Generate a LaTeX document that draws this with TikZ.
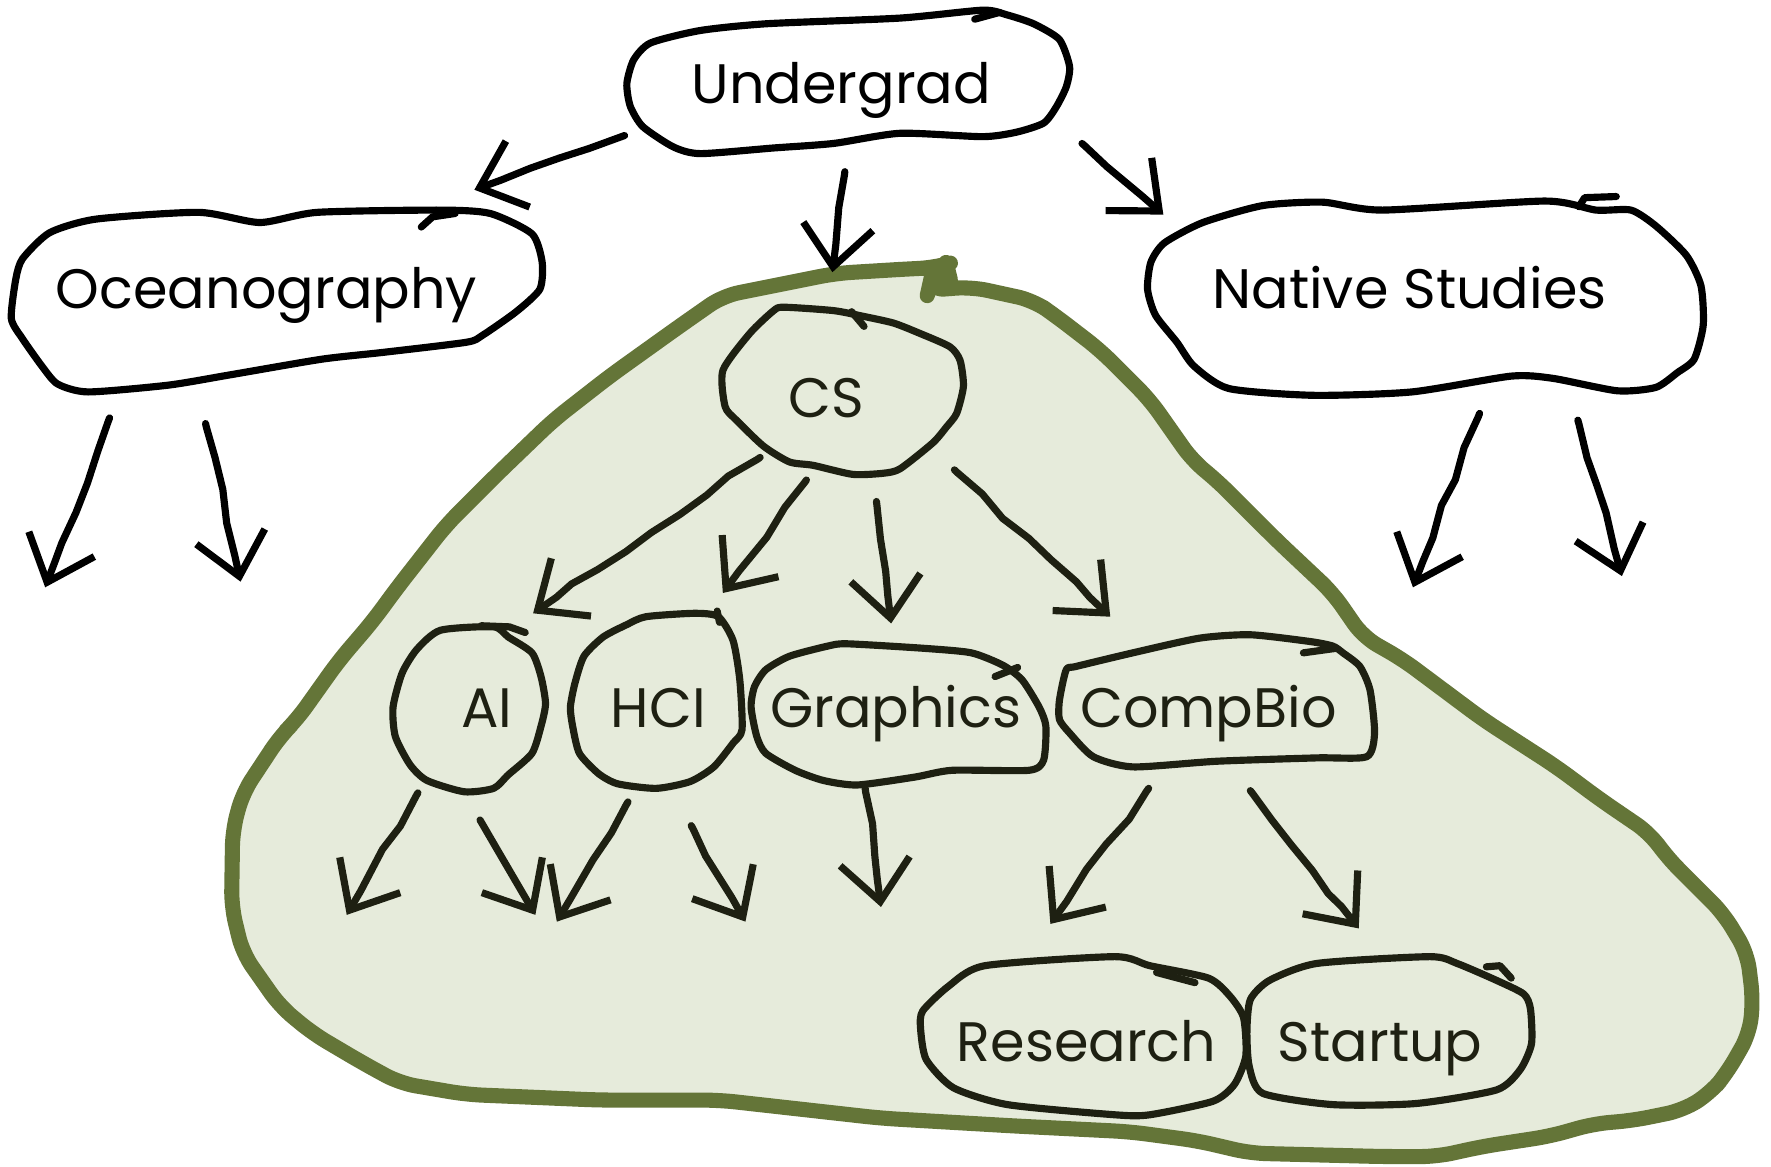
\documentclass[tikz,border=0pt]{standalone}
\usepackage{fontspec}
\setmainfont{Poppins}
\usetikzlibrary{decorations.pathmorphing, arrows.meta}
\definecolor{moss}{HTML}{647538}
\definecolor{mossfill}{HTML}{E6EBDB}
\definecolor{ink}{HTML}{1E2012}

\begin{document}
\pgfmathsetseed{11}
\begin{tikzpicture}[x=0.01cm, y=-0.01cm,
  tag/.style={font=\fontsize{14}{16}\selectfont, text height=9.8pt, text depth=0pt, inner sep=0pt},
  outer/.style={tag, text=black},
  inner/.style={tag, text=ink},
  outline/.style={line width=1.8pt, line join=round, line cap=round},
  arr/.style={line width=1.8pt, line cap=round, line join=round,
    decorate, decoration={random steps, segment length=8pt, amplitude=0.8pt, pre length=1pt, post length=7pt},
    -{Straight Barb[length=3.6mm, width=6.2mm]}},
]
\fill[white] (0,0) rectangle (1568,1033);
\useasboundingbox (0,0) rectangle (1568,1033);

% the shaded region holding CS and its branches
\draw[moss, fill=mossfill, line width=3.8pt, line join=round, rounded corners=4pt]
  (740,242) -- (806,238) -- (828,237) -- (838,234) -- (841,246) -- (824,248) -- (822,257)
  -- (860,254) -- (915,266) -- (935,280) -- (974,310) -- (1018,354) -- (1056,408)
  -- (1077,425) -- (1130,478) -- (1180,525) -- (1207,564) -- (1242,584) -- (1313,637)
  -- (1378,679) -- (1417,708) -- (1461,738) -- (1476,759) -- (1526,809) -- (1547,844)
  -- (1552,885) -- (1549,915) -- (1529,950) -- (1514,968) -- (1490,983) -- (1446,992)
  -- (1411,995) -- (1372,1006) -- (1313,1015) -- (1272,1024) -- (1225,1024) -- (1107,1021)
  -- (1060,1010) -- (1000,1002) -- (900,997) -- (780,990) -- (637,974) -- (531,974)
  -- (413,969) -- (354,959) -- (321,941) -- (277,915) -- (248,891) -- (215,844)
  -- (205,803) -- (206,735) -- (215,702) -- (248,652) -- (263,637) -- (300,585)
  -- (330,550) -- (352,520) -- (395,465) -- (440,420) -- (490,372) -- (540,333)
  -- (600,290) -- (640,262) -- (700,250) -- cycle;

% labels
\node[outer] (ug)  at (745,74)   {Undergrad};
\node[outer] (oc)  at (236,256)  {Oceanography};
\node[outer] (ns)  at (1248,256) {Native Studies};
\node[inner] (cs)  at (732,352)  {CS};
\node[inner] (ai)  at (431,627)  {AI};
\node[inner] (hci) at (583,627)  {HCI};
\node[inner] (gr)  at (793,627)  {Graphics};
\node[inner] (cb)  at (1070,627) {CompBio};
\node[inner] (re)  at (962,923)  {Research};
\node[inner] (st)  at (1222,923) {Startup};

% hand-drawn outlines around the labels
\begin{scope}[black]
\draw[outline, shift={(ug.center)}] plot[smooth cycle, tension=0.4] coordinates {(-190,0) (-184,-21) (-169,-36) (-125,-47) (-66,-53) (52,-58) (125,-65) (146,-61) (170,-53) (193,-39) (202,-15) (199,3) (190,21) (179,35) (155,43) (125,47) (52,44) (-7,53) (-60,57) (-125,62) (-149,56) (-176,38) (-187,20)};
\draw[outline, shift={(ug.center)}] (118,-57) -- (140,-63);
\draw[outline, shift={(oc.center)}] plot[smooth cycle, tension=0.4] coordinates {(-226,26) (-222,-9) (-216,-27) (-192,-50) (-151,-62) (-60,-68) (-6,-59) (45,-68) (154,-70) (198,-67) (235,-49) (244,-24) (242,0) (221,20) (191,41) (177,47) (103,56) (49,62) (-33,76) (-87,85) (-158,91) (-185,84) (-199,68) (-216,44)};
\draw[outline, shift={(oc.center)}] (137,-55) -- (147,-64) -- (167,-67);
\draw[outline, shift={(ns.center)}] plot[smooth cycle, tension=0.4] coordinates {(-232,0) (-229,-24) (-217,-41) (-183,-59) (-130,-74) (-77,-77) (-24,-70) (120,-78) (165,-70) (196,-70) (218,-56) (245,-30) (258,-3) (260,32) (252,62) (237,74) (218,87) (184,90) (127,79) (90,77) (2,91) (-85,94) (-160,88) (-191,68) (-206,47) (-225,23)};
\draw[outline, shift={(ns.center)}] (150,-73) -- (155,-81) -- (183,-82);
\end{scope}

\begin{scope}[ink]
\draw[outline, shift={(cs.center)}] plot[smooth cycle, tension=0.4] coordinates {(-92,-24) (-90,8) (-80,20) (-56,43) (-33,57) (-12,60) (23,68) (50,67) (65,63) (94,40) (106,26) (115,14) (121,-10) (118,-33) (109,-45) (82,-57) (59,-66) (32,-72) (6,-77) (-38,-80) (-47,-77) (-68,-57)};
\draw[outline, shift={(cs.center)}] (22,-76) -- (33,-63);
\draw[outline, shift={(ai.center)}] plot[smooth cycle, tension=0.4] coordinates {(6,-72) (-41,-69) (-62,-52) (-75,-31) (-83,-1) (-81,25) (-68,50) (-53,64) (-20,74) (6,71) (19,59) (40,40) (48,16) (52,-4) (48,-28) (40,-49) (19,-63)};
\draw[outline, shift={(ai.center)}] (-5,-73) -- (20,-72) -- (34,-67);
\draw[outline, shift={(hci.center)}] plot[smooth cycle, tension=0.4] coordinates {(-11,-81) (32,-84) (53,-81) (66,-60) (72,-25) (74,19) (66,31) (49,52) (28,65) (-2,71) (-36,67) (-53,58) (-70,40) (-76,16) (-78,-1) (-74,-22) (-66,-46) (-49,-63) (-28,-74)};
\draw[outline, shift={(hci.center)}] (52,-86) -- (54,-76);
\draw[outline, shift={(gr.center)}] plot[smooth cycle, tension=0.4] coordinates {(-125,-19) (-115,-34) (-94,-46) (-60,-55) (-43,-57) (25,-53) (67,-49) (95,-38) (112,-25) (127,-1) (133,16) (131,46) (118,55) (50,55) (17,61) (-34,68) (-64,64) (-89,55) (-115,40) (-123,25) (-128,-1)};
\draw[outline, shift={(gr.center)}] (88,-28) -- (108,-36);
\draw[outline, shift={(cb.center)}] plot[smooth cycle, tension=0.4] coordinates {(-132,-7) (-126,-34) (-117,-37) (-67,-49) (-8,-62) (37,-65) (90,-59) (110,-55) (119,-49) (134,-37) (143,-16) (147,22) (140,43) (96,44) (7,47) (-67,52) (-102,43) (-123,22) (-132,10)};
\draw[outline, shift={(cb.center)}] (84,-49) -- (113,-53);
\draw[outline, shift={(re.center)}] plot[smooth cycle, tension=0.4] coordinates {(-145,-28) (-122,-50) (-90,-68) (25,-76) (56,-68) (108,-57) (127,-41) (139,-22) (141,12) (131,37) (112,52) (56,64) (25,64) (-70,55) (-118,40) (-142,15) (-147,-13)};
\draw[outline, shift={(re.center)}] (62,-62) -- (96,-53);
\draw[outline, shift={(st.center)}] plot[smooth cycle, tension=0.4] coordinates {(-115,-38) (-98,-55) (-56,-70) (44,-76) (68,-70) (103,-55) (127,-43) (133,-30) (134,1) (124,24) (103,42) (32,54) (-42,55) (-104,45) (-116,21) (-118,-10)};
\draw[outline, shift={(st.center)}] (94,-67) -- (106,-68) -- (116,-57);
\end{scope}

% open ends of the branches that lead nowhere
\coordinate (ocL) at (40,520);
\coordinate (ocR) at (213,515);
\coordinate (nsL) at (1251,520);
\coordinate (nsR) at (1436,510);
\coordinate (aiL) at (307,810);
\coordinate (aiR) at (474,810);
\coordinate (hciL) at (493,816);
\coordinate (hciR) at (660,816);
\coordinate (grD) at (780,803);

% connectors outside the region
\begin{scope}[black]
\draw[arr] ([shift={(-192,46)}]ug.center) -- ([shift={(184,-88)}]oc.center);
\draw[arr] ([shift={(3,78)}]ug.center) -- ([shift={(5,-111)}]cs.center);
\draw[arr] ([shift={(213,53)}]ug.center) -- ([shift={(-218,-66)}]ns.center);
\draw[arr] ([shift={(-139,114)}]oc.center) -- (ocL);
\draw[arr] ([shift={(-54,119)}]oc.center) -- (ocR);
\draw[arr] ([shift={(62,110)}]ns.center) -- (nsL);
\draw[arr] ([shift={(149,116)}]ns.center) -- (nsR);
\end{scope}

% connectors inside the region
\begin{scope}[ink]
\draw[arr] ([shift={(-59,53)}]cs.center) -- ([shift={(41,-84)}]ai.center);
\draw[arr] ([shift={(-18,73)}]cs.center) -- ([shift={(57,-102)}]hci.center);
\draw[arr] ([shift={(44,92)}]cs.center) -- ([shift={(-4,-75)}]gr.center);
\draw[arr] ([shift={(113,64)}]cs.center) -- ([shift={(-87,-81)}]cb.center);
\draw[arr] ([shift={(-61,75)}]ai.center) -- (aiL);
\draw[arr] ([shift={(-6,99)}]ai.center) -- (aiR);
\draw[arr] ([shift={(-27,83)}]hci.center) -- (hciL);
\draw[arr] ([shift={(29,104)}]hci.center) -- (hciR);
\draw[arr] ([shift={(-27,71)}]gr.center) -- (grD);
\draw[arr] ([shift={(-53,71)}]cb.center) -- ([shift={(-32,-105)}]re.center);
\draw[arr] ([shift={(37,73)}]cb.center) -- ([shift={(-19,-101)}]st.center);
\end{scope}
\end{tikzpicture}
\end{document}
